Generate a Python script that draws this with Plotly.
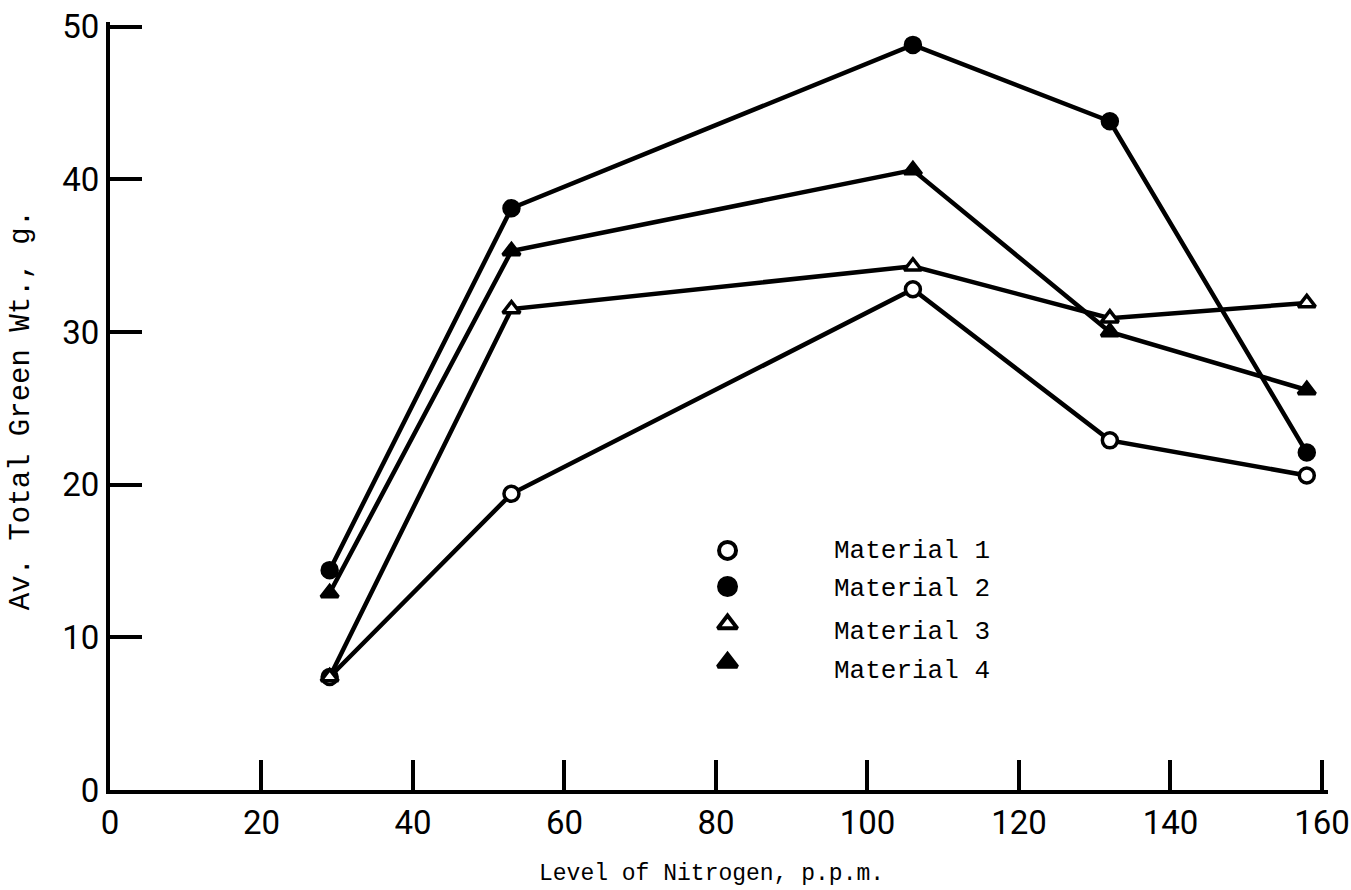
import plotly.graph_objects as go

# Nitrogen levels (p.p.m.) and average total green weight (g) per material
nitrogen = [29, 53, 106, 132, 158]
material_1 = [7.4, 19.4, 32.8, 22.9, 20.6]
material_2 = [14.4, 38.1, 48.8, 43.8, 22.1]
material_3 = [7.4, 31.5, 34.3, 30.9, 31.9]
material_4 = [12.9, 35.3, 40.6, 30.0, 26.2]

series_names = ["Material 1", "Material 2", "Material 3", "Material 4"]
x_ticks = [0, 20, 40, 60, 80, 100, 120, 140, 160]
y_ticks = [0, 10, 20, 30, 40, 50]

TYPE_FONT = "Courier New, Liberation Mono, monospace"
NUM_FONT = "Roboto, DejaVu Sans, sans-serif"

styles = [
    dict(symbol="circle", color="white"),
    dict(symbol="circle", color="black"),
    dict(symbol="triangle-up", color="white"),
    dict(symbol="triangle-up", color="black"),
]

fig = go.Figure()
for name, values, st in zip(series_names,
                            [material_1, material_2, material_3, material_4],
                            styles):
    fig.add_trace(go.Scatter(
        x=nitrogen, y=values, name=name, mode="lines+markers",
        line=dict(color="black", width=4.5),
        marker=dict(symbol=st["symbol"], size=15, color=st["color"],
                    line=dict(color="black", width=3.5)),
        showlegend=False,
    ))

# Hand-drawn key: symbols on an overlay axis spanning the plot area
key_x = 0.507
key_y = [0.312, 0.265, 0.216, 0.166]
text_y = [0.311, 0.262, 0.206, 0.155]
for name, ky, ty, st in zip(series_names, key_y, text_y, styles):
    fig.add_trace(go.Scatter(
        x=[key_x], y=[ky], xaxis="x2", yaxis="y2", mode="markers",
        marker=dict(symbol=st["symbol"], size=17, color=st["color"],
                    line=dict(color="black", width=4)),
        showlegend=False, hoverinfo="skip",
    ))
    fig.add_annotation(text=name, xref="paper", yref="paper",
                       x=0.5925, y=ty, xanchor="left", yanchor="middle",
                       showarrow=False,
                       font=dict(family=TYPE_FONT, size=26, color="black"))

fig.add_annotation(text="Av. Total Green Wt., g.", xref="paper", yref="paper",
                   x=-0.0726, y=0.494, xanchor="center", yanchor="middle",
                   textangle=-90, showarrow=False,
                   font=dict(family=TYPE_FONT, size=29, color="black"))
fig.add_annotation(text="Level of Nitrogen, p.p.m.", xref="paper", yref="paper",
                   x=0.494, y=-0.11, xanchor="center", yanchor="middle",
                   showarrow=False,
                   font=dict(family=TYPE_FONT, size=23, color="black"))

axis_common = dict(showgrid=False, zeroline=False, showline=True,
                   linecolor="black", linewidth=4, ticks="inside",
                   tickcolor="black", tickwidth=3.5,
                   ticklabeloverflow="allow", automargin=False,
                   tickfont=dict(family=NUM_FONT, size=33, color="black"))

fig.update_layout(
    width=1351, height=890,
    margin=dict(l=110, r=23, t=22, b=100, autoexpand=False),
    paper_bgcolor="white", plot_bgcolor="white",
    xaxis=dict(range=[0, 160.8], tickvals=x_ticks, ticklen=30,
               **axis_common),
    yaxis=dict(range=[0, 50.3], tickvals=y_ticks, ticklen=32,
               **axis_common),
    xaxis2=dict(range=[0, 1], overlaying="x", visible=False),
    yaxis2=dict(range=[0, 1], overlaying="y", visible=False),
)

fig.write_html("out.html")
